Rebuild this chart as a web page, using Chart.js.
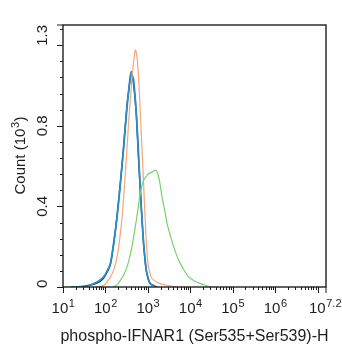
<!DOCTYPE html>
<html>
<head>
<meta charset="utf-8">
<script src="https://cdn.jsdelivr.net/npm/chart.js@4/dist/chart.umd.min.js"></script>
<style>
  html, body { margin: 0; padding: 0; background: #fff; }
  #wrap { width: 342px; height: 350px; }
</style>
</head>
<body>
<div id="wrap"><canvas id="myChart"></canvas></div>
<script>
// histogram traces, x = fluorescence intensity, y = count (10^3)
const greenX = [150, 190, 225, 270, 323, 370, 424, 480, 535, 590, 641, 720, 796, 900, 1045, 1250, 1503, 1650, 1799, 1980, 2163, 2500, 2837, 3400, 4058, 4900, 5844, 7400, 9163, 12500, 17300, 23000, 29800]
const greenY = [0, 0.012, 0.033, 0.06, 0.1, 0.145, 0.2, 0.27, 0.33, 0.39, 0.447, 0.5, 0.53, 0.545, 0.563, 0.57, 0.58, 0.572, 0.546, 0.5, 0.447, 0.38, 0.315, 0.255, 0.2, 0.152, 0.116, 0.078, 0.05, 0.03, 0.017, 0.008, 0]

const orangeX = [60, 76, 100, 131, 160, 188, 218, 247, 295, 352, 424, 470, 507, 540, 574, 620, 665, 770, 874, 989, 1100, 1256, 1600, 1972, 2600, 3396, 5236]
const orangeY = [0, 0.003, 0.015, 0.05, 0.09, 0.149, 0.24, 0.348, 0.563, 0.812, 1.043, 1.13, 1.176, 1.16, 1.11, 1.0, 0.861, 0.58, 0.315, 0.133, 0.075, 0.042, 0.025, 0.017, 0.01, 0.005, 0]

const blueX = [15, 26, 40, 53, 70, 91, 110, 131, 156, 188, 225, 269, 323, 360, 386, 408, 430, 462, 535, 607, 692, 796, 922, 1030, 1146, 1648]
const blueY = [0, 0.002, 0.006, 0.017, 0.03, 0.05, 0.08, 0.116, 0.216, 0.348, 0.514, 0.695, 0.894, 0.99, 1.043, 1.068, 1.05, 1.027, 0.861, 0.646, 0.414, 0.216, 0.083, 0.04, 0.017, 0]

const darkX = [18, 30, 55, 75, 92, 130, 158, 190, 226, 270, 322, 384, 400, 418, 458, 530, 600, 690, 790, 915, 1140, 1600]
const darkY = [0, 0.003, 0.015, 0.028, 0.045, 0.11, 0.22, 0.36, 0.52, 0.7, 0.9, 1.035, 1.06, 1.055, 1.01, 0.87, 0.65, 0.42, 0.22, 0.085, 0.015, 0]

const xExponents = ['1', '2', '3', '4', '5', '6', '7.2']
const yTickValues = [0, 0.4, 0.8, 1.3]
const yTickLabels = ['0', '0.4', '0.8', '1.3']

const xMin = 10
const xMax = Math.pow(10, 7.2)
const FONT = '"Liberation Sans", Arial, sans-serif'
const INK = '#1e1e1e'

const pts = (xs, ys) => xs.map((v, i) => ({ x: v, y: ys[i] }))

// base text with superscript, centered on cx
function supText(ctx, base, sup, tail, cx, baseline, size) {
  const supSize = Math.round(size * 0.7)
  ctx.font = size + 'px ' + FONT
  const wb = ctx.measureText(base).width
  const wt = tail ? ctx.measureText(tail).width : 0
  ctx.font = supSize + 'px ' + FONT
  const ws = ctx.measureText(sup).width
  const total = wb + ws + wt
  let x0 = cx - total / 2
  return { total, draw: (shift) => {
    x0 += shift || 0
    ctx.textAlign = 'left'
    ctx.textBaseline = 'alphabetic'
    ctx.font = size + 'px ' + FONT
    ctx.fillText(base, x0, baseline)
    ctx.font = supSize + 'px ' + FONT
    ctx.fillText(sup, x0 + wb + 0.5, baseline - size * 0.38)
    if (tail) {
      ctx.font = size + 'px ' + FONT
      ctx.fillText(tail, x0 + wb + ws + 1, baseline)
    }
  }, left: x0 }
}

const flowAxes = {
  id: 'flowAxes',
  afterDraw(chart) {
    const { ctx, chartArea: a, scales: { x, y } } = chart
    ctx.save()
    ctx.strokeStyle = INK
    ctx.fillStyle = INK

    // frame
    ctx.lineWidth = 1.4
    ctx.strokeRect(a.left, a.top, a.right - a.left, a.bottom - a.top)

    // x ticks (log decades)
    ctx.lineWidth = 1
    for (let d = 1; d <= 7; d++) {
      for (let m = 1; m <= 9; m++) {
        const v = m * Math.pow(10, d)
        if (v > xMax) break
        const px = Math.round(x.getPixelForValue(v)) + 0.5
        ctx.beginPath()
        ctx.moveTo(px, a.bottom)
        ctx.lineTo(px, a.bottom + (m === 1 ? 6 : 3))
        ctx.stroke()
      }
    }
    ctx.beginPath()
    ctx.moveTo(a.right, a.bottom)
    ctx.lineTo(a.right, a.bottom + 6)
    ctx.stroke()

    // y ticks
    for (let i = 0; i <= 16; i++) {
      const v = i * 8 / 100
      const py = Math.round(y.getPixelForValue(v)) + 0.5
      const major = i % 5 === 0
      ctx.beginPath()
      ctx.moveTo(a.left, py)
      ctx.lineTo(a.left - (major ? 6 : 3), py)
      ctx.stroke()
    }
    ctx.beginPath()
    ctx.moveTo(a.left, a.top)
    ctx.lineTo(a.left - 6, a.top)
    ctx.stroke()

    // x tick labels
    xExponents.forEach(e => {
      const cx = x.getPixelForValue(Math.pow(10, parseFloat(e)))
      const t = supText(ctx, '10', e, '', cx, 313, 15)
      const over = t.left + t.total - (chart.width - 1)
      t.draw(over > 0 ? -over : 0)
    })

    // y tick labels (rotated)
    ctx.font = '15px ' + FONT
    yTickValues.forEach((v, i) => {
      const hw = ctx.measureText(yTickLabels[i]).width / 2
      let cy = y.getPixelForValue(v)
      cy = Math.max(a.top + hw, Math.min(a.bottom - hw + 1, cy))
      ctx.save()
      ctx.translate(47, cy)
      ctx.rotate(-Math.PI / 2)
      ctx.textAlign = 'center'
      ctx.textBaseline = 'alphabetic'
      ctx.font = '15px ' + FONT
      ctx.fillText(yTickLabels[i], 0, 0)
      ctx.restore()
    })

    // x title
    ctx.font = '16px ' + FONT
    ctx.textAlign = 'center'
    ctx.textBaseline = 'alphabetic'
    ctx.fillText('phospho-IFNAR1 (Ser535+Ser539)-H', (a.left + a.right) / 2, 341)

    // y title
    ctx.save()
    ctx.translate(25, (a.top + a.bottom) / 2)
    ctx.rotate(-Math.PI / 2)
    supText(ctx, 'Count (10', '3', ')', 0, 0, 15).draw()
    ctx.restore()

    ctx.restore()
  }
}

const ctx = document.getElementById('myChart').getContext('2d')

new Chart(ctx, {
  type: 'line',
  data: {
    datasets: [
      { data: pts(greenX, greenY), borderColor: '#74d46c', borderWidth: 1.2 },
      { data: pts(orangeX, orangeY), borderColor: '#f2a878', borderWidth: 1.2 },
      { data: pts(blueX, blueY), borderColor: '#2a8cc8', borderWidth: 1.8 },
      { data: pts(darkX, darkY), borderColor: '#1a3350', borderWidth: 1.4 },
    ]
  },
  options: {
    responsive: true,
    maintainAspectRatio: false,
    animation: false,
    layout: { padding: { left: 63, right: 16, top: 25, bottom: 63 } },
    elements: {
      point: { radius: 0 },
      line: { tension: 0.2, fill: false }
    },
    plugins: {
      legend: { display: false },
      tooltip: { enabled: false }
    },
    scales: {
      x: { type: 'logarithmic', min: xMin, max: xMax, display: false },
      y: { type: 'linear', min: 0, max: 1.3, display: false }
    }
  },
  plugins: [flowAxes]
})
</script>
</body>
</html>
